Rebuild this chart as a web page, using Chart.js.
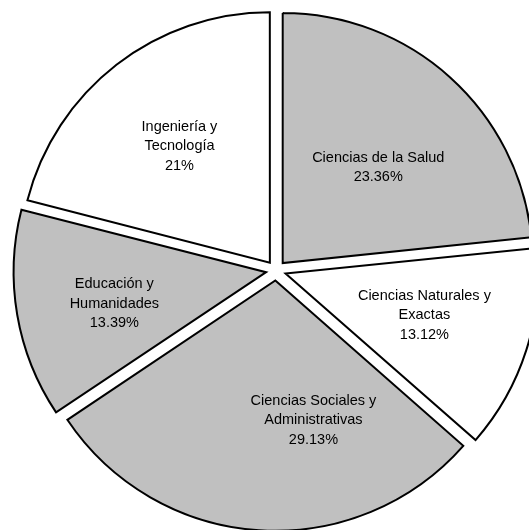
<!DOCTYPE html>
<html>
<head>
<meta charset="utf-8">
<script src="https://cdn.jsdelivr.net/npm/chart.js@4/dist/chart.umd.min.js"></script>
<style>
  html, body { margin: 0; padding: 0; background: #fff; }
  #wrap { width: 529px; height: 530px; }
</style>
</head>
<body>
<div id="wrap"><canvas id="pieChart" width="529" height="530"></canvas></div>
<script>
  // Données (ordre horaire depuis midi)
  const categories = [
    ['Ciencias de la Salud'],
    ['Ciencias Naturales y', 'Exactas'],
    ['Ciencias Sociales y', 'Administrativas'],
    ['Educación y', 'Humanidades'],
    ['Ingeniería y', 'Tecnología']
  ];
  const shares = [23.36, 13.12, 29.13, 13.39, 21];
  const shareLabels = ['23.36%', '13.12%', '29.13%', '13.39%', '21%'];
  const sliceColors = ['#c0c0c0', '#ffffff', '#c0c0c0', '#c0c0c0', '#ffffff'];

  const EXPLODE = 40; // Chart.js translates arcs by offset / 4

  // Placement des étiquettes : fraction du rayon + petit décalage angulaire (degrés)
  const labelPlacement = [
    { f: 0.54, a: 3 },
    { f: 0.58, a: -1 },
    { f: 0.58, a: -19 },
    { f: 0.62, a: -2 },
    { f: 0.59, a: 0 }
  ];

  const sliceLabels = {
    id: 'sliceLabels',
    afterDatasetsDraw(chart) {
      const ctx = chart.ctx;
      const meta = chart.getDatasetMeta(0);
      ctx.save();
      ctx.font = '14.5px "Liberation Sans", Arial, sans-serif';
      ctx.fillStyle = '#000';
      ctx.textAlign = 'center';
      ctx.textBaseline = 'middle';
      meta.data.forEach((arc, i) => {
        const p = arc.getProps(['x', 'y', 'startAngle', 'endAngle', 'outerRadius'], true);
        const mid = (p.startAngle + p.endAngle) / 2;
        const shift = EXPLODE / 4;
        const cx = p.x + Math.cos(mid) * shift;
        const cy = p.y + Math.sin(mid) * shift;
        const place = labelPlacement[i];
        const ang = mid + place.a * Math.PI / 180;
        const lx = cx + Math.cos(ang) * p.outerRadius * place.f;
        const ly = cy + Math.sin(ang) * p.outerRadius * place.f;
        const lines = categories[i].concat([shareLabels[i]]);
        const lh = 19.5;
        const top = ly - (lines.length - 1) * lh / 2;
        lines.forEach((t, k) => ctx.fillText(t, lx, top + k * lh));
      });
      ctx.restore();
    }
  };

  const ctx = document.getElementById('pieChart').getContext('2d');
  const pieChart = new Chart(ctx, {
    type: 'pie',
    data: {
      labels: categories.map(c => c.join(' ')),
      datasets: [{
        data: shares,
        backgroundColor: sliceColors,
        borderColor: '#000',
        borderWidth: 2,
        borderJoinStyle: 'miter',
        offset: EXPLODE,
        hoverOffset: 0
      }]
    },
    options: {
      responsive: false,
      animation: false,
      events: [],
      radius: 250,
      layout: { padding: { left: 23, right: 0, top: 11, bottom: 0 } },
      plugins: {
        legend: { display: false },
        tooltip: { enabled: false }
      }
    },
    plugins: [sliceLabels]
  });
</script>
</body>
</html>
